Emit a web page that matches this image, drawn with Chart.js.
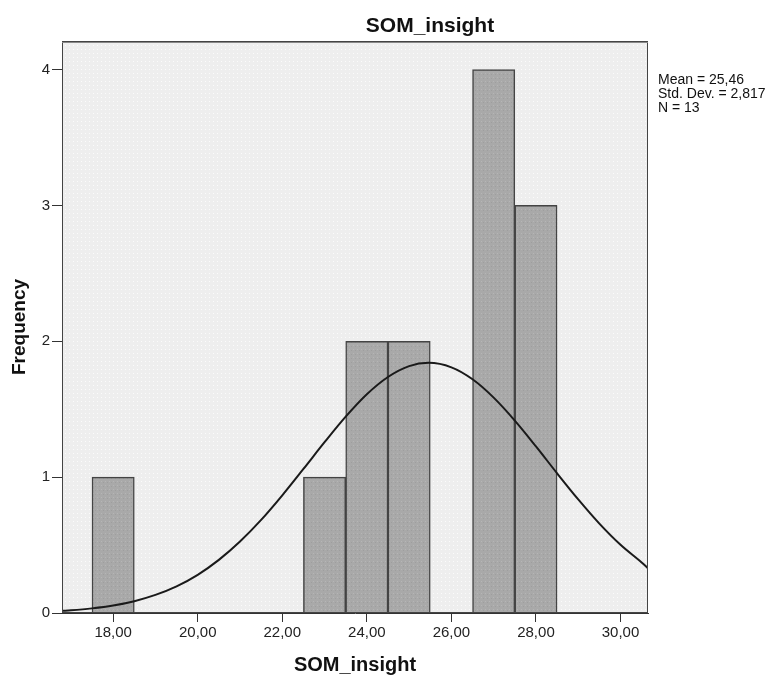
<!DOCTYPE html>
<html>
<head>
<meta charset="utf-8">
<script src="https://cdn.jsdelivr.net/npm/chart.js@4.4.0/dist/chart.umd.min.js"></script>
<style>
  html, body { margin: 0; padding: 0; background: #fff; }
  #wrap { width: 775px; height: 679px; }
</style>
</head>
<body>
<div id="wrap"><canvas id="hist" width="775" height="679"></canvas></div>
<script>
// histogram bins (centre of bin, count)
const binCenters = [18, 23, 24, 25, 27, 28];
const binCounts = [1, 1, 2, 2, 4, 3];

// normal curve
const curveX = [16.79, 17, 17.5, 18, 18.5, 19, 19.5, 20, 20.5, 21, 21.5, 22, 22.5, 23, 23.5, 24, 24.5, 25, 25.46,
  26, 26.5, 27, 27.5, 28, 28.5, 29, 29.5, 30, 30.5, 30.65];
const curveY = [0.016, 0.020, 0.034, 0.055, 0.087, 0.133, 0.196, 0.281, 0.391, 0.526, 0.685, 0.866, 1.060, 1.257, 1.445, 1.610, 1.737, 1.817, 1.841,
  1.808, 1.720, 1.585, 1.416, 1.226, 1.028, 0.836, 0.658, 0.502, 0.372, 0.33];

const xTicks = [18, 20, 22, 24, 26, 28, 30];
const yTicks = [0, 1, 2, 3, 4];
const chartTitle = 'SOM_insight';
const statsLines = ['Mean = 25,46', 'Std. Dev. = 2,817', 'N = 13'];

const sans = "'Liberation Sans', Arial, sans-serif";

function makePattern(base, light, dark) {
  const c = document.createElement('canvas');
  c.width = 4; c.height = 4;
  const g = c.getContext('2d');
  g.fillStyle = base;
  g.fillRect(0, 0, 4, 4);
  g.fillStyle = light;
  g.fillRect(1, 1, 1, 1);
  if (dark) {
    g.fillStyle = dark;
    g.fillRect(3, 2, 1, 1);
  }
  return g.createPattern(c, 'repeat');
}

const ctx = document.getElementById('hist').getContext('2d');
const plotBg = makePattern('#eeeeee', '#fbfbfb');
const barFill = makePattern('#a9a9a9', '#b6b6b6', '#9e9e9e');

const plotDecor = {
  id: 'plotDecor',
  beforeDatasetsDraw(chart) {
    const a = chart.chartArea;
    const c = chart.ctx;
    c.save();
    c.fillStyle = plotBg;
    c.fillRect(a.left, a.top, a.right - a.left, a.bottom - a.top);
    c.restore();
  },
  afterDraw(chart) {
    const a = chart.chartArea;
    const c = chart.ctx;
    c.save();
    // frame, top edge a bit heavier like the original
    c.strokeStyle = '#444';
    c.lineWidth = 1;
    c.strokeRect(a.left + 0.5, a.top + 0.5, a.right - a.left - 1, a.bottom - a.top - 1);
    c.strokeStyle = '#888';
    c.beginPath();
    c.moveTo(a.left, a.top + 1.5);
    c.lineTo(a.right, a.top + 1.5);
    c.stroke();

    c.fillStyle = '#111';
    c.font = 'bold 21px ' + sans;
    c.textAlign = 'center';
    c.textBaseline = 'alphabetic';
    c.fillText(chartTitle, 430, 32);

    c.textAlign = 'left';
    c.font = '14px ' + sans;
    c.textBaseline = 'middle';
    statsLines.forEach((t, i) => {
      c.fillText(t, a.right + 10, 80 + i * 14);
    });
    c.restore();
  }
};

new Chart(ctx, {
  type: 'bar',
  data: {
    datasets: [
      {
        type: 'line',
        data: curveX.map((x, i) => ({ x: x, y: curveY[i] })),
        borderColor: '#1a1a1a',
        borderWidth: 2,
        pointRadius: 0,
        cubicInterpolationMode: 'monotone',
        fill: false,
        order: 0
      },
      {
        type: 'bar',
        data: binCenters.map((x, i) => ({ x: x, y: binCounts[i] })),
        backgroundColor: barFill,
        borderColor: '#444',
        borderWidth: 1.5,
        barPercentage: 1,
        categoryPercentage: 1,
        order: 1
      }
    ]
  },
  options: {
    responsive: false,
    animation: false,
    layout: { padding: { left: 0, right: 127, top: 41, bottom: 0 } },
    plugins: {
      legend: { display: false },
      tooltip: { enabled: false },
      title: { display: false }
    },
    scales: {
      x: {
        type: 'linear',
        min: 16.79,
        max: 30.65,
        offset: false,
        afterBuildTicks: (s) => { s.ticks = xTicks.map(v => ({ value: v })); },
        afterFit: (s) => { s.height = 66; },
        grid: { drawOnChartArea: false, drawTicks: true, tickLength: 9, color: '#333', offset: false },
        border: { display: true, color: '#333' },
        ticks: {
          color: '#222',
          padding: 2,
          maxRotation: 0,
          font: { family: sans, size: 15 },
          callback: (v) => v.toFixed(2).replace('.', ',')
        },
        title: {
          display: true,
          text: 'SOM_insight',
          color: '#111',
          font: { family: sans, size: 20, weight: 'bold' },
          padding: { top: 0, bottom: 2 }
        }
      },
      y: {
        min: 0,
        max: 4.21,
        afterBuildTicks: (s) => { s.ticks = yTicks.map(v => ({ value: v })); },
        afterFit: (s) => { s.width = 62; },
        grid: { drawOnChartArea: false, drawTicks: true, tickLength: 10, color: '#333' },
        border: { display: true, color: '#333' },
        ticks: {
          color: '#222',
          padding: 2,
          font: { family: sans, size: 15 }
        },
        title: {
          display: true,
          text: 'Frequency',
          color: '#111',
          font: { family: sans, size: 19, weight: 'bold' },
          padding: { top: 8, bottom: 0 }
        }
      }
    }
  },
  plugins: [plotDecor]
});
</script>
</body>
</html>
